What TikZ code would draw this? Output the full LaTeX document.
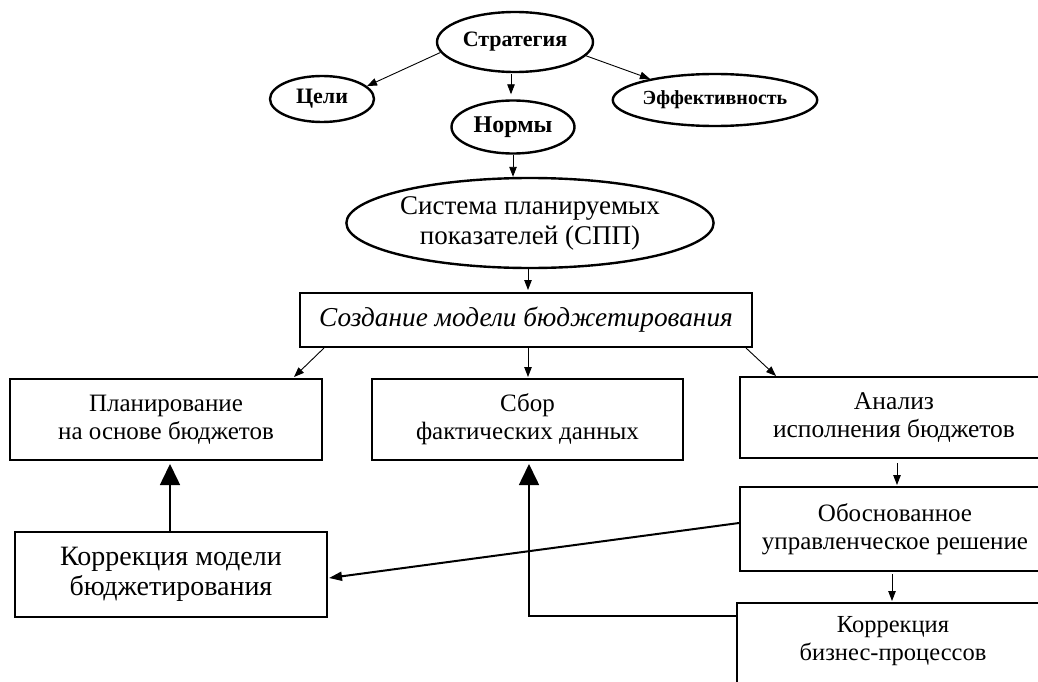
\documentclass[tikz,border=0pt]{standalone}
\usepackage{fontspec}
\setmainfont{Liberation Serif}
\usetikzlibrary{shapes.geometric,arrows.meta,calc}
\tikzset{
  ell/.style={draw,ellipse,line width=2.4pt,inner sep=0pt,font=\fontsize{22}{24}\selectfont\bfseries},
  bx/.style={draw,rectangle,line width=2pt,inner sep=0pt,align=center,font=\fontsize{25}{28}\selectfont},
  thin arrow/.style={line width=0.9pt,-{Triangle[length=10pt,width=7.5pt]}},
  mid arrow/.style={line width=2pt,-{Triangle[length=13pt,width=9pt]}},
  big arrow/.style={line width=1.6pt,-{Triangle[length=21pt,width=20pt]}},
}
\begin{document}
\begin{tikzpicture}[x=1pt,y=-1pt]
\useasboundingbox (0,0) rectangle (1038,682);
\clip (0,0) rectangle (1038,682);
\node[ell,minimum width=156pt,minimum height=60pt] (strat) at (515,42) {Стратегия};
\node[ell,minimum width=104pt,minimum height=46pt] (celi) at (322,99) {Цели};
\node[ell,minimum width=123pt,minimum height=53pt,font=\fontsize{24}{28}\selectfont\bfseries] (normy) at (513,127) {Нормы};
\node[ell,minimum width=184pt,minimum height=52pt,font=\fontsize{20}{24}\selectfont\bfseries] (eff) at (715,100) {Эффективность};
\node[ell,minimum width=356pt,minimum height=90pt,font=\fontsize{27}{30}\selectfont,align=center] (spp) at (530,223) {Система планируемых\\показателей (СПП)};
\node[bx,minimum width=452pt,minimum height=54pt,font=\fontsize{27.3}{30}\selectfont\itshape] (sozd) at (526,320) {Создание модели бюджетирования};
\node[bx,minimum width=312pt,minimum height=81pt] (plan) at (166,419.5) {Планирование\\на основе бюджетов};
\node[bx,minimum width=311pt,minimum height=81pt] (sbor) at (527.5,419.5) {Сбор\\фактических данных};
\node[bx,minimum width=308pt,minimum height=81pt,font=\fontsize{25.5}{28}\selectfont] (anal) at (894,417.5) {Анализ\\исполнения бюджетов};
\node[bx,minimum width=310pt,minimum height=84pt] (obosn) at (895,529) {Обоснованное\\управленческое решение};
\node[bx,minimum width=313pt,minimum height=130pt,anchor=north] (korrbp) at (893.5,602) {};
\node[align=center,inner sep=0pt,font=\fontsize{24.5}{28}\selectfont] (korrbptext) at (893,641) {Коррекция\\бизнес-процессов};
\node[bx,minimum width=312pt,minimum height=85pt,font=\fontsize{28}{30}\selectfont] (korrmod) at (171,574.5) {Коррекция модели\\бюджетирования};
% arrows
\draw[thin arrow] (strat.188) -- (celi.16);
\draw[thin arrow] ($(normy.north)+(-2,-25)$) -- ($(normy.north)+(-2,-5)$);
\draw[thin arrow] (strat.-11) -- (eff.162);
\draw[thin arrow] (normy.south) -- (normy.south |- spp.north);
\draw[thin arrow] ($(spp.south)+(-2,0)$) -- ($(sozd.north)+(2,-2)$);
\draw[thin arrow] ($(sozd.south west)+(25,0)$) -- ($(plan.north east)+(-29,-1)$);
\draw[thin arrow] ($(sozd.south)+(2,0)$) -- ($(sbor.north)+(0.5,-1)$);
\draw[thin arrow] ($(sozd.south east)+(-7,0)$) -- ($(anal.north west)+(37,0)$);
\draw[thin arrow] ($(anal.south)+(3,4)$) -- ($(obosn.north)+(2,-1)$);
\draw[thin arrow] ($(obosn.south)+(-3,2)$) -- ($(korrbp.north)+(-1.5,-1)$);
\draw[big arrow] ($(korrmod.north)+(-1,0)$) -- ($(plan.south)+(4,3)$);
\draw[mid arrow] ($(obosn.west)+(0,-6)$) -- ($(korrmod.east)+(1,3.5)$);
\coordinate (corner) at (529,616);
\draw[big arrow] ($(korrbp.north west)+(0,14)$) -- (corner) -- ($(sbor.south)+(1.5,3)$);
\end{tikzpicture}
\end{document}
